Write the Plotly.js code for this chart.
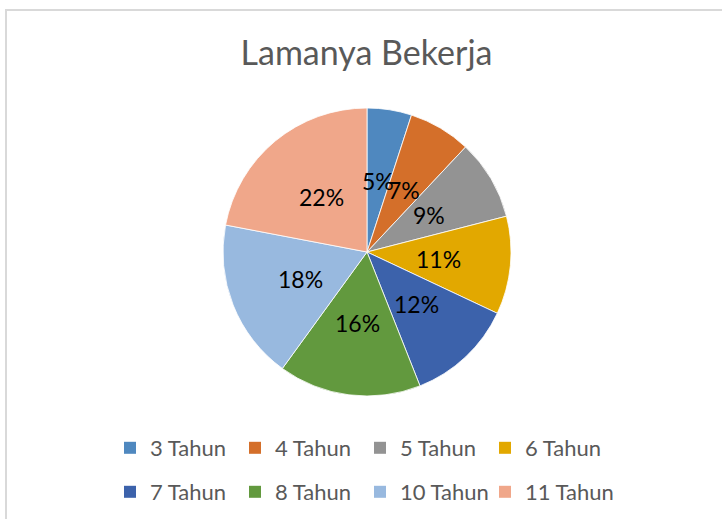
<!DOCTYPE html>
<html>
<head>
<meta charset="utf-8">
<script src="https://cdn.plot.ly/plotly-3.0.1.min.js"></script>
<style>
  html, body { margin: 0; padding: 0; background: #ffffff; }
  #frame { position: absolute; left: 5px; top: 9px; width: 800px; height: 600px;
           border-top: 2px solid #d9d9d9; border-left: 2px solid #d9d9d9; }
  #chart { position: absolute; left: 0; top: 0; width: 722px; height: 519px; }
</style>
</head>
<body>
<div id="frame"></div>
<div id="chart"></div>
<script>
const chartTitle = "Lamanya Bekerja";
const categories = ["3 Tahun", "4 Tahun", "5 Tahun", "6 Tahun", "7 Tahun", "8 Tahun", "10 Tahun", "11 Tahun"];
const values = [5, 7, 9, 11, 12, 16, 18, 22];
const colors = ["#4F88BF", "#D46F2A", "#939393", "#E2A800", "#3C62AB", "#62993E", "#98B9DF", "#F0A78A"];

const W = 722, H = 519;
const cx = 367, cy = 252, R = 144;
const labelFrac = 0.5;

const total = values.reduce((a, b) => a + b, 0);

const pie = {
  type: "pie",
  labels: categories,
  values: values,
  sort: false,
  direction: "clockwise",
  rotation: 0,
  marker: { colors: colors, line: { color: "#ffffff", width: 0.8 } },
  textinfo: "none",
  showlegend: false,
  hoverinfo: "label+percent",
  domain: { x: [(cx - R) / W, (cx + R) / W], y: [(H - cy - R) / H, (H - cy + R) / H] }
};

// legend entries (one per category, split into two rows like the original)
const legendTraces = categories.map((c, i) => ({
  type: "scatter", mode: "markers", x: [null], y: [null],
  name: c, legend: i < 4 ? "legend" : "legend2",
  legendwidth: i === categories.length - 1 ? 100 : 80,
  marker: { symbol: "square", size: 12, color: colors[i] },
  hoverinfo: "skip"
}));

// percentage labels placed along each slice's bisector
let cum = 0;
const annotations = values.map((v) => {
  const mid = (cum + v / 2) / total * 2 * Math.PI;
  cum += v;
  const px = cx + labelFrac * R * Math.sin(mid);
  const py = cy - labelFrac * R * Math.cos(mid);
  return {
    xref: "paper", yref: "paper", x: px / W, y: 1 - py / H,
    xanchor: "center", yanchor: "middle", showarrow: false,
    text: Math.round(v / total * 100) + "%",
    font: { family: "Lato, sans-serif", size: 23, color: "#000000" }
  };
});

const legendCommon = {
  orientation: "h",
  xanchor: "left", yanchor: "middle",
  font: { family: "Lato, sans-serif", size: 22, color: "#595959" },
  bgcolor: "rgba(0,0,0,0)", borderwidth: 0,
  traceorder: "normal"
};

const layout = {
  width: W, height: H,
  margin: { l: 0, r: 0, t: 0, b: 0 },
  paper_bgcolor: "rgba(0,0,0,0)",
  plot_bgcolor: "rgba(0,0,0,0)",
  font: { family: "Lato, sans-serif", color: "#595959" },
  title: { text: chartTitle, x: 366.5 / W, xanchor: "center", y: 1 - 53 / H, yanchor: "middle",
           font: { family: "Lato, sans-serif", size: 34, color: "#595959" } },
  xaxis: { visible: false, fixedrange: true },
  yaxis: { visible: false, fixedrange: true },
  showlegend: true,
  legend: Object.assign({}, legendCommon, { x: 110 / W, y: 1 - 448 / H }),
  legend2: Object.assign({}, legendCommon, { x: 110 / W, y: 1 - 492 / H }),
  annotations: annotations
};

Plotly.newPlot("chart", [pie].concat(legendTraces), layout, { displayModeBar: false, staticPlot: true });
</script>
</body>
</html>
